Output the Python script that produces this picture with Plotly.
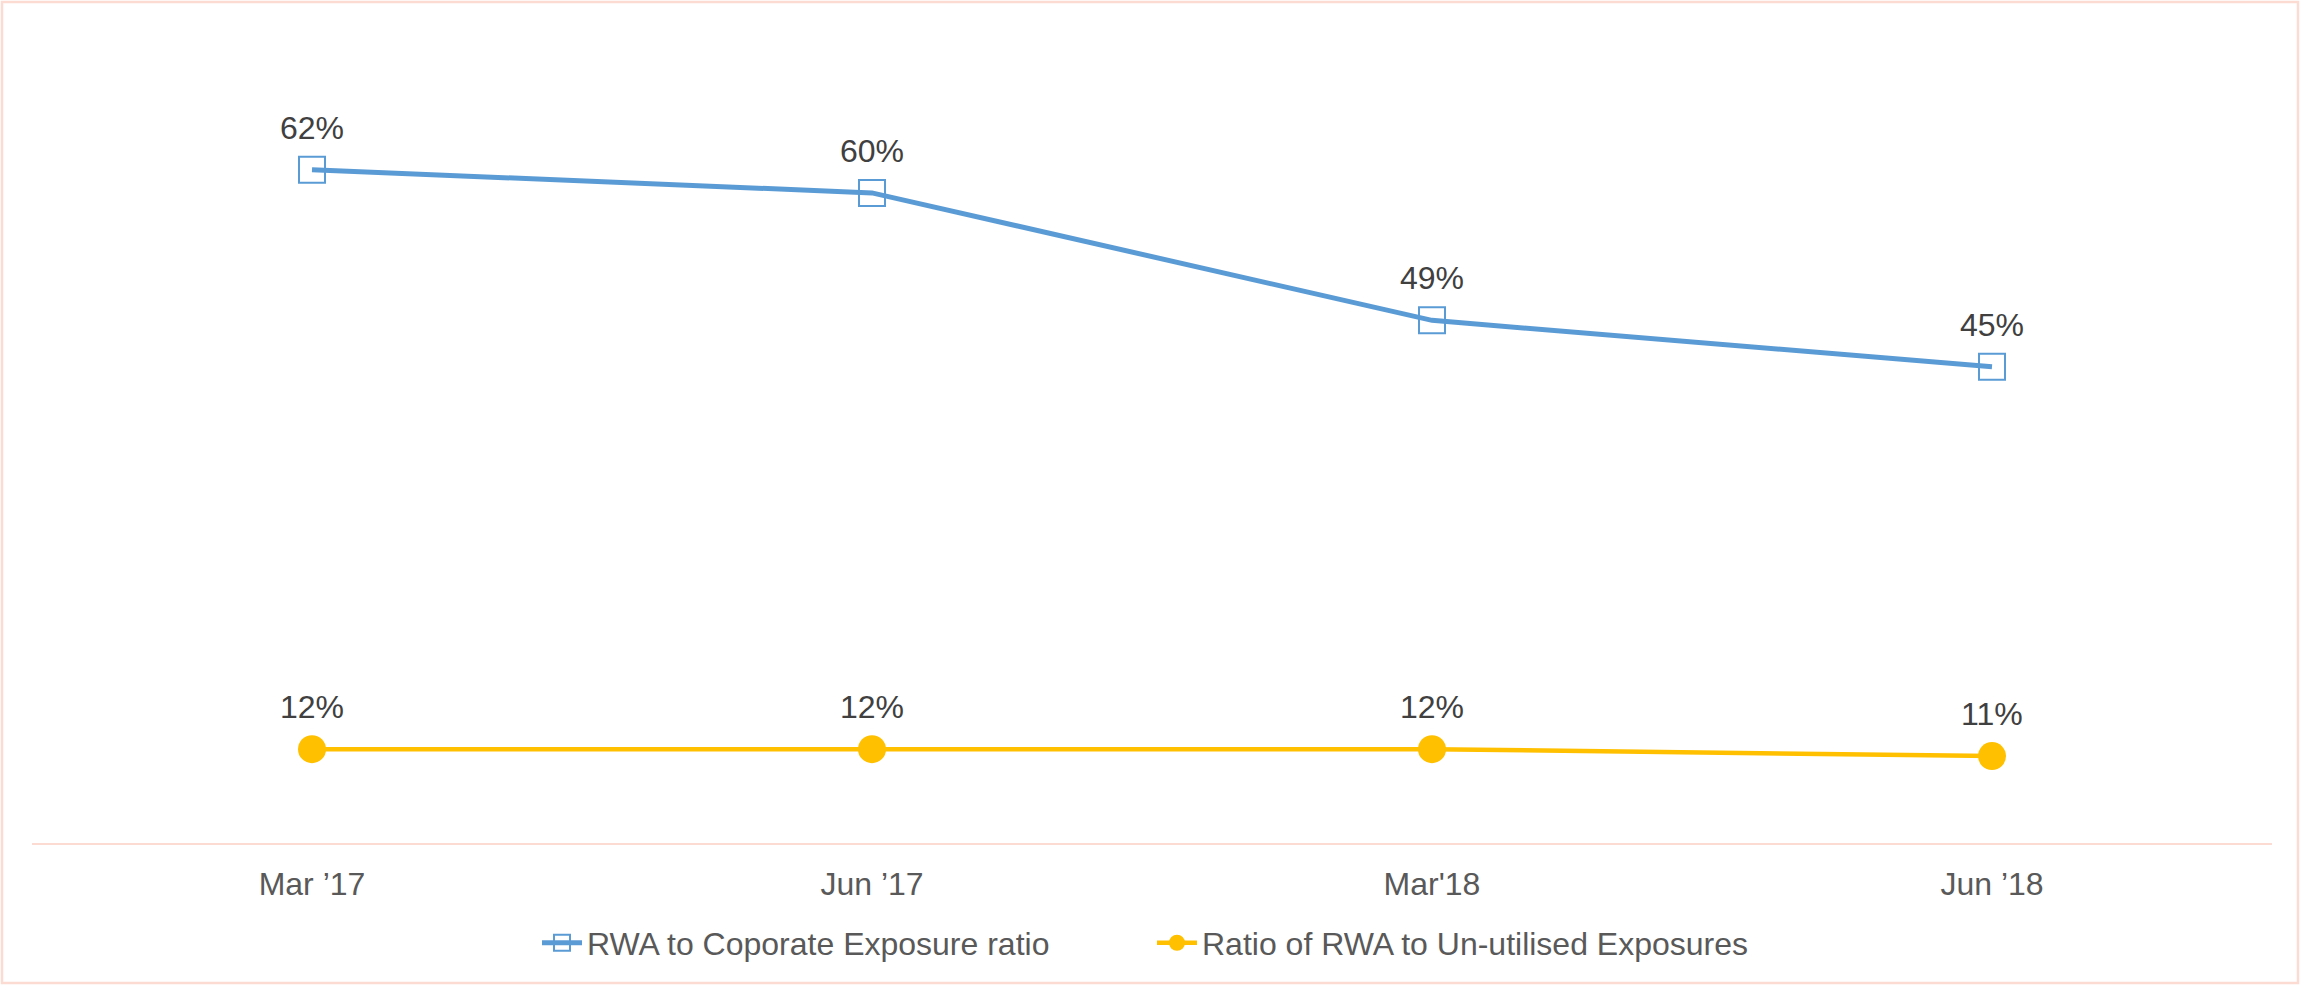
import plotly.graph_objects as go

quarters = ["Mar \u201917", "Jun \u201917", "Mar'18", "Jun \u201918"]
rwa_corporate = [62, 60, 49, 45]
rwa_unutilised = [12.0, 12.0, 12.0, 11.4]
corporate_labels = ["62%", "60%", "49%", "45%"]
unutilised_labels = ["12%", "12%", "12%", "11%"]

W, H = 2300, 985
ml, mr, mt, mb = 32, 28, 77, 142
pw, ph = W - ml - mr, H - mt - mb

blue = "#5B9BD5"
gold = "#FFC000"
pink = "#FCDCD2"
font = "Liberation Sans, Arial, sans-serif"

fig = go.Figure()
fig.add_trace(go.Scatter(
    x=quarters, y=rwa_corporate, mode="lines+markers",
    name="RWA to Coporate Exposure ratio",
    line=dict(color=blue, width=5),
    marker=dict(symbol="square-open", size=26, color=blue, line=dict(width=2)),
))
fig.add_trace(go.Scatter(
    x=quarters, y=rwa_unutilised, mode="lines+markers",
    name="Ratio of RWA to Un-utilised Exposures",
    line=dict(color=gold, width=4.5),
    marker=dict(symbol="circle", size=28, color=gold),
))

# data labels above each point
for ys, labels in [(rwa_corporate, corporate_labels), (rwa_unutilised, unutilised_labels)]:
    for q, v, t in zip(quarters, ys, labels):
        fig.add_annotation(x=q, y=v, text=t, showarrow=False, yshift=42,
                           font=dict(size=32, color="#404040", family=font))

# outer border of the chart area
fig.add_shape(type="rect", xref="paper", yref="paper",
              x0=(2 - ml) / pw, x1=(W - 2 - ml) / pw,
              y0=-(H - 2 - mt - ph) / ph, y1=1 + (mt - 2) / ph,
              line=dict(color=pink, width=2.5))

fig.update_layout(
    width=W, height=H,
    margin=dict(l=ml, r=mr, t=mt, b=mb),
    plot_bgcolor="white", paper_bgcolor="white",
    font=dict(family=font, size=32, color="#595959"),
    showlegend=True,
    legend=dict(orientation="h", x=0.5, xanchor="center", y=-0.1305, yanchor="middle",
                font=dict(size=32, color="#595959"), itemwidth=40, tracegroupgap=0,
                entrywidth=560),
    xaxis=dict(type="category", range=[-0.5, 3.5], showgrid=False, zeroline=False,
               showline=True, linecolor=pink, linewidth=2, ticks="",
               ticklabelstandoff=12, tickfont=dict(size=32, color="#595959")),
    yaxis=dict(range=[3.9, 70], showgrid=False, zeroline=False, showline=False,
               showticklabels=False),
)

fig.write_html("out.html", config={"displayModeBar": False},
               post_script="document.body.style.margin='0';")
